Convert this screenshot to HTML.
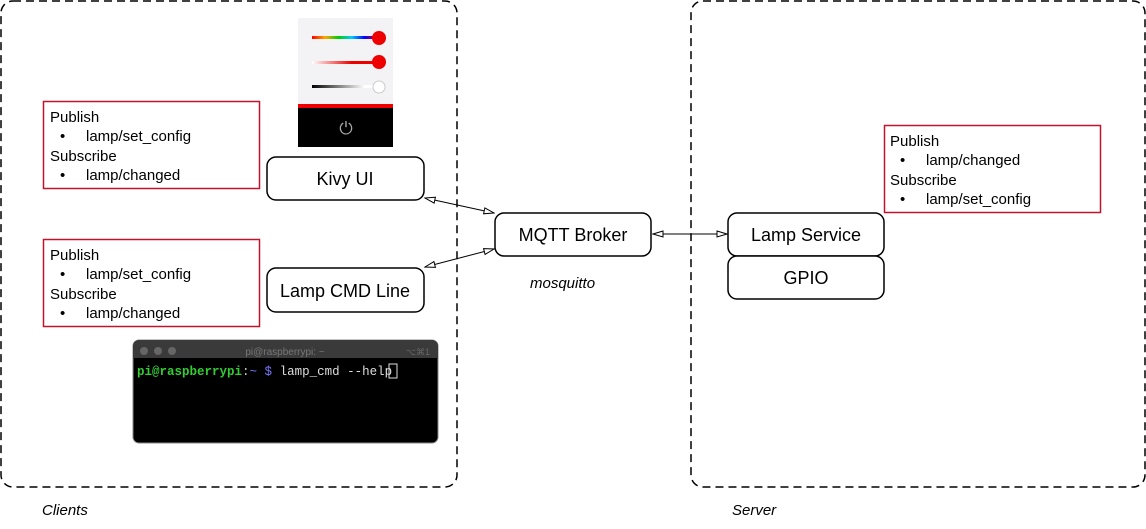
<!DOCTYPE html>
<html><head><meta charset="utf-8"><style>
body{margin:0;background:#fff;width:1146px;height:524px;overflow:hidden}
svg text{font-family:"Liberation Sans",sans-serif}
</style></head><body>
<svg width="1146" height="524" viewBox="0 0 1146 524">
<defs>
<marker id="a" markerWidth="12" markerHeight="8" refX="11" refY="4" orient="auto" markerUnits="userSpaceOnUse">
<path d="M1,1 L11,4 L1,7 Z" fill="#fff" stroke="#000" stroke-width="1"/></marker>
<marker id="b" markerWidth="12" markerHeight="8" refX="1" refY="4" orient="auto" markerUnits="userSpaceOnUse">
<path d="M11,1 L1,4 L11,7 Z" fill="#fff" stroke="#000" stroke-width="1"/></marker>
<linearGradient id="rb" x1="0" x2="1"><stop offset="0" stop-color="#f00"/><stop offset=".2" stop-color="#fa0"/><stop offset=".4" stop-color="#0c0"/><stop offset=".6" stop-color="#0cf"/><stop offset=".8" stop-color="#00f"/><stop offset="1" stop-color="#f00"/></linearGradient>
<linearGradient id="wr" x1="0" x2="1"><stop offset="0" stop-color="#fff"/><stop offset=".6" stop-color="#e00"/></linearGradient>
<linearGradient id="bw" x1="0" x2="1"><stop offset="0" stop-color="#000"/><stop offset=".8" stop-color="#fff"/></linearGradient>
</defs>
<rect x="1" y="1" width="456" height="486" rx="12" fill="none" stroke="#000" stroke-width="1.5" stroke-dasharray="8,5"/>
<rect x="691" y="1" width="454" height="486" rx="12" fill="none" stroke="#000" stroke-width="1.5" stroke-dasharray="8,5"/>
<text x="42" y="515" font-size="15" font-style="italic">Clients</text>
<text x="732" y="515" font-size="15" font-style="italic">Server</text>
<text x="530" y="288" font-size="15" font-style="italic">mosquitto</text>

<rect x="298" y="18" width="95" height="86" fill="#f3f2f5"/>
<rect x="312" y="36" width="66" height="3" fill="url(#rb)"/><circle cx="379" cy="38" r="7" fill="#e00"/>
<rect x="312" y="61" width="66" height="3" fill="url(#wr)"/><circle cx="379" cy="62" r="7" fill="#e00"/>
<rect x="312" y="85" width="66" height="3" fill="url(#bw)"/><circle cx="379" cy="87" r="6" fill="#fff" stroke="#ccc"/>
<rect x="298" y="104" width="95" height="4" fill="#e00"/>
<rect x="298" y="108" width="95" height="39" fill="#000"/>
<text x="346" y="134" font-size="17" fill="#aaa" text-anchor="middle">⏻</text>

<rect x="133" y="340" width="305" height="103" rx="6" fill="#000" stroke="#888"/>
<path d="M133,358 V346 a6,6 0 0 1 6,-6 H432 a6,6 0 0 1 6,6 V358 Z" fill="#3a3a3a"/>
<circle cx="144" cy="351" r="4" fill="#666"/><circle cx="158" cy="351" r="4" fill="#666"/><circle cx="172" cy="351" r="4" fill="#666"/>
<text x="285" y="355" font-size="10" fill="#777" text-anchor="middle">pi@raspberrypi: ~</text>
<text x="430" y="355" font-size="9" fill="#666" text-anchor="end">⌥⌘1</text>
<text x="137" y="375" font-size="12.5" style="font-family:'Liberation Mono',monospace"><tspan fill="#3c3" font-weight="bold">pi@raspberrypi</tspan><tspan fill="#ccc">:</tspan><tspan fill="#77f">~ $</tspan><tspan fill="#ddd"> lamp_cmd --help</tspan></text>
<rect x="389" y="364" width="8" height="14" fill="none" stroke="#ddd"/>

<g font-size="15">
<rect x="43.5" y="101.5" width="216" height="87" fill="#fff" stroke="#c0142c" stroke-width="1.5"/>
<text x="50" y="122">Publish</text><text x="60" y="141">•</text><text x="86" y="141">lamp/set_config</text>
<text x="50" y="161">Subscribe</text><text x="60" y="180">•</text><text x="86" y="180">lamp/changed</text>
<rect x="43.5" y="239.5" width="216" height="87" fill="#fff" stroke="#c0142c" stroke-width="1.5"/>
<text x="50" y="260">Publish</text><text x="60" y="279">•</text><text x="86" y="279">lamp/set_config</text>
<text x="50" y="299">Subscribe</text><text x="60" y="318">•</text><text x="86" y="318">lamp/changed</text>
<rect x="884.5" y="125.5" width="216" height="87" fill="#fff" stroke="#c0142c" stroke-width="1.5"/>
<text x="890" y="146">Publish</text><text x="900" y="165">•</text><text x="926" y="165">lamp/changed</text>
<text x="890" y="185">Subscribe</text><text x="900" y="204">•</text><text x="926" y="204">lamp/set_config</text>
</g>

<g fill="#fff" stroke="#000" stroke-width="1.5">
<rect x="267" y="157" width="157" height="43" rx="9"/>
<rect x="267" y="268" width="157" height="44" rx="9"/>
<rect x="495" y="213" width="156" height="43" rx="9"/>
<rect x="728" y="213" width="156" height="43" rx="9"/>
<rect x="728" y="256" width="156" height="43" rx="9"/>
</g>
<g font-size="18" text-anchor="middle">
<text x="345" y="185">Kivy UI</text>
<text x="345" y="297">Lamp CMD Line</text>
<text x="573" y="241">MQTT Broker</text>
<text x="806" y="241">Lamp Service</text>
<text x="806" y="284">GPIO</text>
</g>
<g stroke="#000" stroke-width="1">
<line x1="425" y1="198" x2="494" y2="213" marker-start="url(#b)" marker-end="url(#a)"/>
<line x1="425" y1="267" x2="494" y2="249" marker-start="url(#b)" marker-end="url(#a)"/>
<line x1="653" y1="234" x2="727" y2="234" marker-start="url(#b)" marker-end="url(#a)"/>
</g>
</svg>
</body></html>
